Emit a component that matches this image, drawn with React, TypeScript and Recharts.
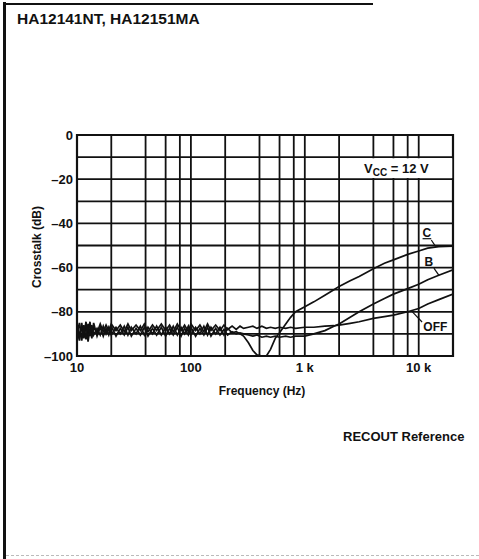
import React from "react";
import {
  LineChart,
  Line,
  XAxis,
  YAxis,
  CartesianGrid,
  ReferenceArea,
  ReferenceLine,
  ReferenceDot,
} from "recharts";

// frequency points (Hz)
const freqHz = [
  10, 10.5, 11, 11.5, 12, 12.5, 13, 13.5, 14, 15,
  16, 17, 18, 19, 20, 22, 24, 26, 28, 30,
  33, 36, 39, 42, 46, 50, 55, 60, 65, 70,
  76, 82, 88, 95, 100, 110, 120, 130, 140, 150,
  165, 180, 195, 210, 230, 250, 270, 290, 320, 350,
  380, 420, 460, 500, 550, 600, 680, 750, 830, 1000,
  1200, 1500, 1800, 2000, 2500, 3000, 4000, 5000, 6000, 8000,
  10000, 12000, 15000, 20000,
];

// crosstalk (dB) per curve
const crosstalkC = [
  -90, -85, -93, -86, -92.5, -85.5, -91, -86, -90.5, -87.5,
  -90.5, -86.5, -90, -87, -90.5, -87, -90, -86.5, -90.5, -87,
  -90, -86.5, -90.5, -87, -90, -86.5, -90.5, -87, -90, -86.5,
  -90.5, -87, -90, -86.5, -90.5, -87, -90, -86.5, -90.5, -87,
  -90, -87, -90.5, -87.5, -89.5, -89, -90, -91, -94, -97.5,
  -99.5, -100, -100, -97, -92, -89.5, -85.5, -82.5, -80, -77.7,
  -75.5, -72.5, -70, -68.5, -66, -64, -60.5, -58, -56.5, -54,
  -52.5, -51.2, -50.5, -50.3,
];

const crosstalkB = [
  -88, -93, -87, -90.5, -84.5, -93.5, -87.5, -92, -85, -91,
  -87, -91, -87.5, -90.5, -86.5, -91, -87.5, -90.5, -87, -91,
  -87.5, -90.5, -87, -91, -87.5, -90.5, -87, -91, -87.5, -90.5,
  -87, -91, -87.5, -90.5, -87, -91, -87.5, -90.5, -87, -91,
  -87.5, -90.5, -88, -90.5, -89, -90, -89.5, -90, -90.5, -91,
  -90.5, -91.5, -91, -91.5, -91, -91.5, -91, -91.5, -91, -91,
  -90, -88.5, -86.5, -85.5, -82.5, -80, -76.5, -74, -72, -69.5,
  -67.5, -65.5, -63.5, -61,
];

const crosstalkOff = [
  -86, -91, -85, -92, -86, -90, -84.5, -91, -87, -89.5,
  -85.5, -89, -86, -88.5, -85.5, -88.5, -86, -89, -85.5, -88.5,
  -86, -88.5, -85.5, -89, -86, -88.5, -85.5, -88.5, -86, -89,
  -85.5, -88.5, -86, -89, -85.5, -88.5, -86, -89, -85.5, -88.5,
  -86, -88.5, -86, -88, -86.5, -88, -86.5, -87.5, -87, -86.5,
  -87.5, -86.5, -87.5, -87, -87.5, -87, -87.5, -87, -87.5, -87,
  -87, -86.5, -86.3, -86, -85.2, -84.5, -83, -82.2, -81.5, -80,
  -78.5, -76.5, -74.5, -72,
];

const xTicks = [
  10, 20, 40, 60, 80, 100, 200, 400, 600, 800, 1000, 2000, 4000, 6000, 8000,
  10000, 20000,
];
const xTickLabels: Record<number, string> = {
  10: "10",
  100: "100",
  1000: "1 k",
  10000: "10 k",
};
const yTicks = [-100, -90, -80, -70, -60, -50, -40, -30, -20, -10, 0];

const data = freqHz.map((f, i) => ({
  f,
  c: crosstalkC[i],
  b: crosstalkB[i],
  off: crosstalkOff[i],
}));

const INK = "#111";
const FONT = "'Liberation Sans', Arial, Helvetica, sans-serif";

const XTick = ({ x, y, payload }: any) => {
  const label = xTickLabels[payload.value];
  if (!label) return <g />;
  return (
    <text
      x={x}
      y={y}
      dy="0.71em"
      textAnchor="middle"
      fontFamily={FONT}
      fontWeight="bold"
      fontSize={13}
      fill={INK}
    >
      {label}
    </text>
  );
};

const YTick = ({ x, y, payload }: any) => {
  const v = payload.value;
  if (v % 20 !== 0) return <g />;
  return (
    <text
      x={x}
      y={y}
      dy="0.35em"
      textAnchor="end"
      fontFamily={FONT}
      fontWeight="bold"
      fontSize={13}
      fill={INK}
    >
      {v === 0 ? "0" : "\u2013" + Math.abs(v)}
    </text>
  );
};

const VccLabel = (props: any) => {
  const { x, y, width, height } = props.viewBox;
  return (
    <text
      x={x + width / 2}
      y={y + height / 2}
      dy="0.35em"
      textAnchor="middle"
      fontFamily={FONT}
      fontWeight="bold"
      fontSize={13}
      fill={INK}
    >
      V
      <tspan fontSize={10} dy={3}>
        CC
      </tspan>
      <tspan dy={-3}>{"  =  12 V"}</tspan>
    </text>
  );
};

const curveLabel = (text: string, underline = false) => (props: any) => {
  const { x, y, width, height } = props.viewBox;
  return (
    <text
      x={x + width / 2}
      y={y + height / 2}
      dy="0.35em"
      textAnchor="middle"
      fontFamily={FONT}
      fontWeight="bold"
      fontSize={12}
      fill={INK}
      style={underline ? { textDecoration: "underline" } : undefined}
    >
      {text}
    </text>
  );
};

export default function App() {
  return (
    <div
      style={{
        position: "fixed",
        left: 0,
        top: 0,
        width: 479,
        height: 559,
        background: "#fff",
        fontFamily: FONT,
        color: INK,
        overflow: "hidden",
      }}
    >
      {/* page frame of the scan */}
      <div style={{ position: "absolute", left: 3, top: 2, width: 3, height: 559, background: INK }} />
      <div style={{ position: "absolute", left: 3, top: 3, width: 370, height: 2, background: INK }} />
      <div
        style={{
          position: "absolute",
          left: 6,
          top: 555,
          width: 473,
          height: 0,
          borderTop: "1px dashed #bbb",
        }}
      />

      <div
        style={{
          position: "absolute",
          left: 17,
          top: 11,
          fontSize: 15.5,
          fontWeight: "bold",
          lineHeight: 1,
          whiteSpace: "nowrap",
        }}
      >
        HA12141NT, HA12151MA
      </div>

      <div style={{ position: "absolute", left: 0, top: 0 }}>
        <LineChart
          width={479}
          height={559}
          data={data}
          margin={{ top: 135, right: 26, bottom: 173, left: 17 }}
        >
          <CartesianGrid stroke={INK} strokeWidth={1.8} />
          <XAxis
            dataKey="f"
            type="number"
            scale="log"
            domain={[10, 20000]}
            ticks={xTicks}
            allowDataOverflow
            axisLine={false}
            tickLine={false}
            tickSize={0}
            tickMargin={7}
            height={30}
            interval={0}
            tick={<XTick />}
          />
          <YAxis
            type="number"
            domain={[-100, 0]}
            ticks={yTicks}
            allowDataOverflow
            axisLine={false}
            tickLine={false}
            tickSize={0}
            tickMargin={4}
            width={60}
            interval={0}
            tick={<YTick />}
          />
          <ReferenceArea
            x1={10}
            x2={20000}
            y1={-100}
            y2={0}
            fill="none"
            stroke={INK}
            strokeWidth={2.2}
            ifOverflow="visible"
          />
          <ReferenceArea
            x1={2060}
            x2={19700}
            y1={-19.5}
            y2={-10.5}
            fill="#fff"
            fillOpacity={1}
            stroke="none"
            label={(p: any) => <VccLabel {...p} />}
          />
          <Line dataKey="off" stroke={INK} strokeWidth={1.7} dot={false} isAnimationActive={false} />
          <Line dataKey="b" stroke={INK} strokeWidth={1.7} dot={false} isAnimationActive={false} />
          <Line dataKey="c" stroke={INK} strokeWidth={1.7} dot={false} isAnimationActive={false} />

          {/* curve labels with leader lines */}
          <ReferenceLine
            segment={[{ x: 12900, y: -47.5 }, { x: 14100, y: -50.5 }]}
            stroke={INK}
            strokeWidth={1.2}
            ifOverflow="visible"
          />
          <ReferenceDot x={11800} y={-44.3} r={0} stroke="none" fill="none" ifOverflow="visible" label={curveLabel("C", true)} />
          <ReferenceLine
            segment={[{ x: 13600, y: -60.2 }, { x: 15100, y: -63.6 }]}
            stroke={INK}
            strokeWidth={1.2}
            ifOverflow="visible"
          />
          <ReferenceDot x={12300} y={-57.5} r={0} stroke="none" fill="none" ifOverflow="visible" label={curveLabel("B")} />
          <ReferenceLine
            segment={[{ x: 10700, y: -84.6 }, { x: 8800, y: -80 }]}
            stroke={INK}
            strokeWidth={1.2}
            ifOverflow="visible"
          />
          <ReferenceDot x={14000} y={-86.9} r={0} stroke="none" fill="none" ifOverflow="visible" label={curveLabel("OFF")} />
        </LineChart>
      </div>

      <div
        style={{
          position: "absolute",
          left: 37,
          top: 247,
          transform: "translate(-50%, -50%) rotate(-90deg)",
          fontSize: 12,
          fontWeight: "bold",
          lineHeight: 1,
          whiteSpace: "nowrap",
        }}
      >
        Crosstalk (dB)
      </div>
      <div
        style={{
          position: "absolute",
          left: 262,
          top: 385,
          transform: "translateX(-50%)",
          fontSize: 12,
          fontWeight: "bold",
          lineHeight: 1,
          whiteSpace: "nowrap",
        }}
      >
        Frequency (Hz)
      </div>
      <div
        style={{
          position: "absolute",
          left: 343,
          top: 430,
          fontSize: 13,
          fontWeight: "bold",
          lineHeight: 1,
          whiteSpace: "nowrap",
        }}
      >
        RECOUT Reference
      </div>
    </div>
  );
}
